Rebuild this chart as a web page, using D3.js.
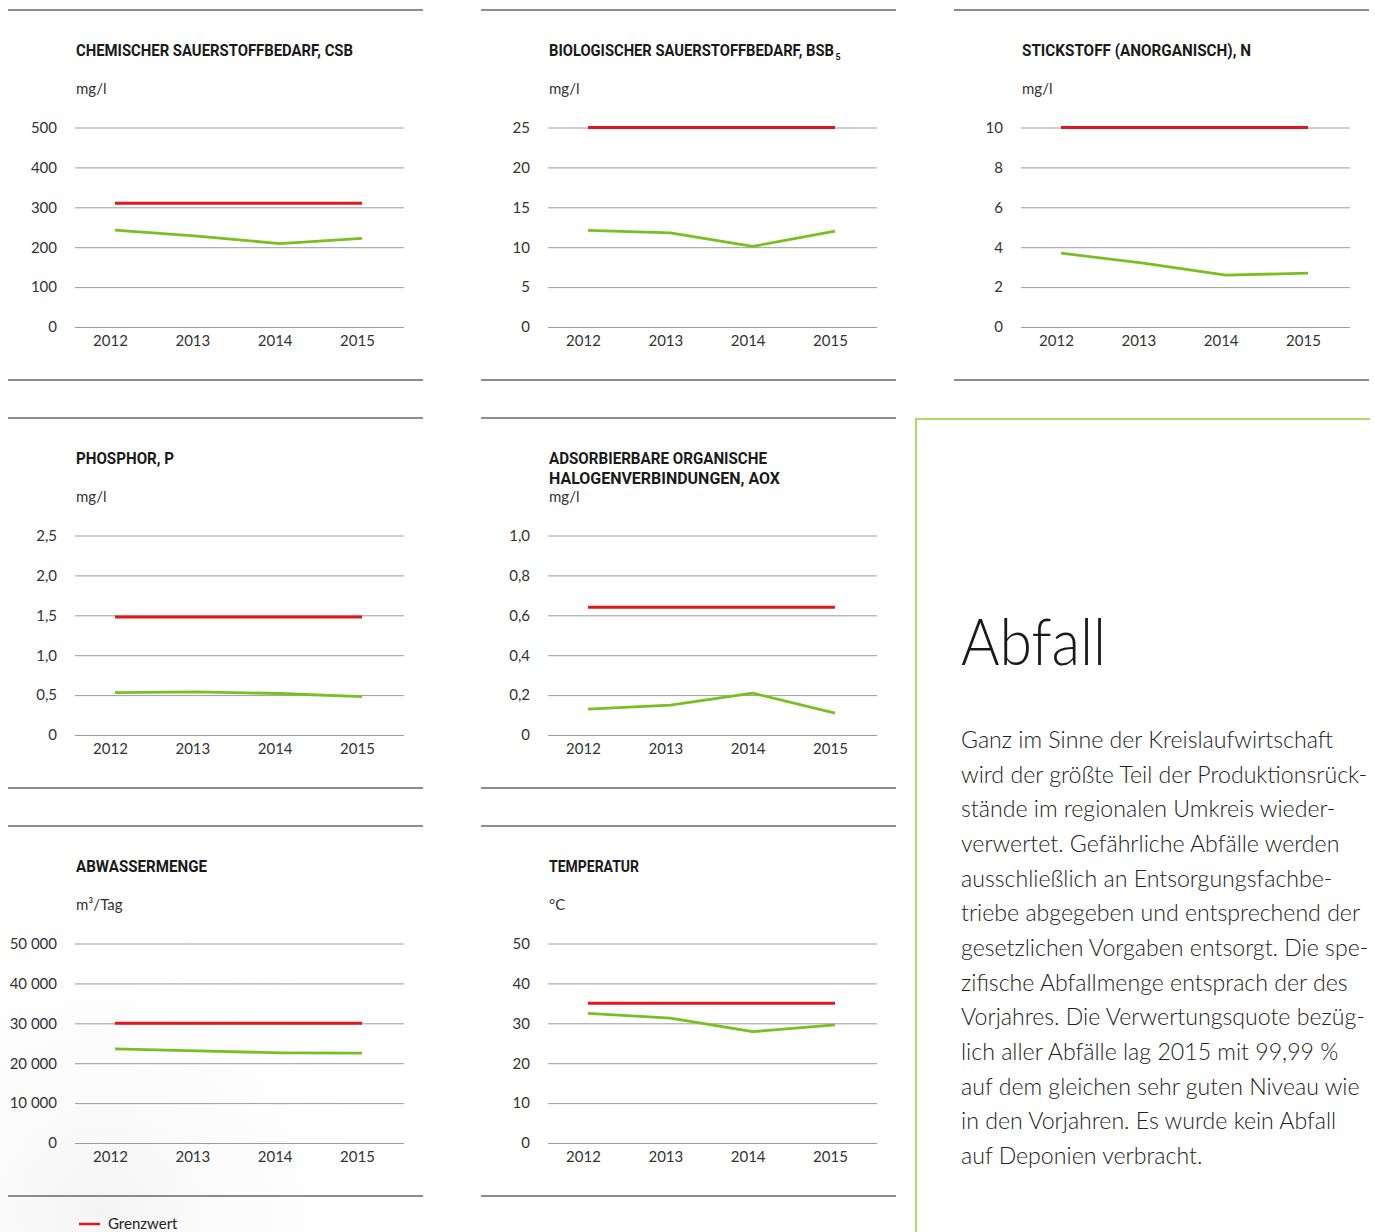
<!DOCTYPE html>
<html><head><meta charset="utf-8">
<script src="https://cdn.jsdelivr.net/npm/d3@7"></script>
<style>
html,body{margin:0;padding:0;background:#fff;}
svg{display:block;}
</style></head>
<body>
<script>
// ---------- DATA ----------
const years = ["2012", "2013", "2014", "2015"];

const csbValues = [243, 228, 209, 222];
const csbLimit = 310;
const csbTicks = [0, 100, 200, 300, 400, 500];
const csbTickLabels = ["0", "100", "200", "300", "400", "500"];

const bsbValues = [12.1, 11.8, 10.1, 12.0];
const bsbLimit = 25;
const bsbTicks = [0, 5, 10, 15, 20, 25];
const bsbTickLabels = ["0", "5", "10", "15", "20", "25"];

const nValues = [3.7, 3.2, 2.6, 2.7];
const nLimit = 10;
const nTicks = [0, 2, 4, 6, 8, 10];
const nTickLabels = ["0", "2", "4", "6", "8", "10"];

const pValues = [0.53, 0.54, 0.52, 0.48];
const pLimit = 1.48;
const pTicks = [0, 0.5, 1.0, 1.5, 2.0, 2.5];
const pTickLabels = ["0", "0,5", "1,0", "1,5", "2,0", "2,5"];

const aoxValues = [0.13, 0.15, 0.21, 0.11];
const aoxLimit = 0.64;
const aoxTicks = [0, 0.2, 0.4, 0.6, 0.8, 1.0];
const aoxTickLabels = ["0", "0,2", "0,4", "0,6", "0,8", "1,0"];

const abwValues = [23600, 23100, 22600, 22500];
const abwLimit = 30000;
const abwTicks = [0, 10000, 20000, 30000, 40000, 50000];
const abwTickLabels = ["0", "10 000", "20 000", "30 000", "40 000", "50 000"];

const tempValues = [32.5, 31.3, 27.9, 29.6];
const tempLimit = 35;
const tempTicks = [0, 10, 20, 30, 40, 50];
const tempTickLabels = ["0", "10", "20", "30", "40", "50"];

const legendLabel = "Grenzwert";
const sideTitle = "Abfall";
const sideLines = [
  "Ganz im Sinne der Kreislaufwirtschaft",
  "wird der größte Teil der Produktionsrück-",
  "stände im regionalen Umkreis wieder-",
  "verwertet. Gefährliche Abfälle werden",
  "ausschließlich an Entsorgungsfachbe-",
  "triebe abgegeben und entsprechend der",
  "gesetzlichen Vorgaben entsorgt. Die spe-",
  "zifische Abfallmenge entsprach der des",
  "Vorjahres. Die Verwertungsquote bezüg-",
  "lich aller Abfälle lag 2015 mit 99,99 %",
  "auf dem gleichen sehr guten Niveau wie",
  "in den Vorjahren. Es wurde kein Abfall",
  "auf Deponien verbracht."
];

// ---------- PANELS ----------
const panels = [
  {col:0,row:0,title:["CHEMISCHER SAUERSTOFFBEDARF, CSB"],tw:[277],unit:"mg/l",values:csbValues,limit:csbLimit,ticks:csbTicks,labels:csbTickLabels},
  {col:1,row:0,title:["BIOLOGISCHER SAUERSTOFFBEDARF, BSB"],sub:"5",tw:[285],unit:"mg/l",values:bsbValues,limit:bsbLimit,ticks:bsbTicks,labels:bsbTickLabels},
  {col:2,row:0,title:["STICKSTOFF (ANORGANISCH), N"],tw:[229],unit:"mg/l",values:nValues,limit:nLimit,ticks:nTicks,labels:nTickLabels},
  {col:0,row:1,title:["PHOSPHOR, P"],tw:[98],unit:"mg/l",values:pValues,limit:pLimit,ticks:pTicks,labels:pTickLabels},
  {col:1,row:1,title:["ADSORBIERBARE ORGANISCHE","HALOGENVERBINDUNGEN, AOX"],tw:[218,231],unit:"mg/l",values:aoxValues,limit:aoxLimit,ticks:aoxTicks,labels:aoxTickLabels},
  {col:0,row:2,title:["ABWASSERMENGE"],tw:[131],unit:"m³/Tag",values:abwValues,limit:abwLimit,ticks:abwTicks,labels:abwTickLabels},
  {col:1,row:2,title:["TEMPERATUR"],tw:[90],unit:"°C",values:tempValues,limit:tempLimit,ticks:tempTicks,labels:tempTickLabels}
];

const W = 1375, H = 1232;
const colX = [0, 473, 946];
const rowY = [0, 408, 816];
const RED = "#e3161b", GREEN = "#77c020";
const FONT = "Lato, 'Open Sans', sans-serif";
const TFONT = "Roboto, 'Liberation Sans', sans-serif";

const svg = d3.select("body").append("svg").attr("width", W).attr("height", H);

// faint background shading lower left
const defs = svg.append("defs");
const rg = defs.append("radialGradient").attr("id","bgShade").attr("cx","0.5").attr("cy","0.5").attr("r","0.5");
rg.append("stop").attr("offset","0%").attr("stop-color","#ececec").attr("stop-opacity",0.55);
rg.append("stop").attr("offset","100%").attr("stop-color","#ffffff").attr("stop-opacity",0);
svg.append("ellipse").attr("cx",100).attr("cy",1210).attr("rx",320).attr("ry",330).attr("fill","url(#bgShade)");

panels.forEach(p => {
  const g = svg.append("g").attr("transform", `translate(${colX[p.col]},${rowY[p.row]})`);

  // rules
  [10, 380].forEach(yy => {
    g.append("line").attr("x1", 8).attr("x2", 423).attr("y1", yy).attr("y2", yy)
      .attr("stroke", "#666").attr("stroke-width", 1.3);
  });

  // title
  p.title.forEach((t, i) => {
    const tx = g.append("text").attr("x", 76).attr("y", 56 + i * 20)
      .attr("font-family", TFONT).attr("font-weight", 700).attr("font-size", 16)
      .attr("fill", "#1a1a1a");
    tx.append("tspan").text(t)
      .attr("textLength", p.tw[i]).attr("lengthAdjust", "spacingAndGlyphs");
    if (p.sub && i === 0) {
      tx.append("tspan").attr("dx", 1.5).attr("dy", 4).attr("font-size", 9).text(p.sub);
    }
  });

  // unit
  g.append("text").attr("x", 76).attr("y", 94)
    .attr("font-family", FONT).attr("font-size", 15).attr("fill", "#333").text(p.unit);

  // scales
  const x = d3.scalePoint().domain(years).range([115, 362]);
  const y = d3.scaleLinear().domain([p.ticks[0], p.ticks[p.ticks.length - 1]]).range([327, 127.5]);

  // gridlines + y labels
  const ya = g.append("g").attr("transform", "translate(75,0)")
    .call(d3.axisLeft(y).tickValues(p.ticks).tickFormat((d, i) => p.labels[i])
      .tickSize(-(404 - 75)).tickPadding(18));
  ya.select(".domain").remove();
  ya.selectAll(".tick line").attr("stroke", "#9c9c9c").attr("stroke-width", 1);
  ya.selectAll(".tick text").attr("font-family", FONT).attr("font-size", 15).attr("fill", "#333");

  // x labels
  const xa = g.append("g").attr("transform", "translate(-5,335)")
    .call(d3.axisBottom(x).tickSize(0).tickPadding(0));
  xa.select(".domain").remove();
  xa.selectAll(".tick text").attr("font-family", FONT).attr("font-size", 15).attr("fill", "#333");

  // limit line
  g.append("line").attr("x1", x(years[0])).attr("x2", x(years[years.length - 1]))
    .attr("y1", y(p.limit)).attr("y2", y(p.limit))
    .attr("stroke", RED).attr("stroke-width", 3);

  // data line
  const line = d3.line().x((d, i) => x(years[i])).y(d => y(d));
  g.append("path").datum(p.values).attr("d", line)
    .attr("fill", "none").attr("stroke", GREEN).attr("stroke-width", 2.8)
    .attr("stroke-linejoin", "round");
});

// legend
svg.append("line").attr("x1", 79).attr("x2", 100).attr("y1", 1224).attr("y2", 1224)
  .attr("stroke", RED).attr("stroke-width", 2.5);
svg.append("text").attr("x", 108).attr("y", 1229).attr("font-family", FONT)
  .attr("font-size", 15).attr("fill", "#222").text(legendLabel);

// side panel
const side = svg.append("g");
side.append("path").attr("d", `M916,${H} L916,419 L1370,419`)
  .attr("fill", "none").attr("stroke", "#8fd12a").attr("stroke-width", 1.5);
side.append("text").attr("x", 961).attr("y", 665).attr("font-family", FONT)
  .attr("font-weight", 300).attr("font-size", 66).attr("fill", "#1a1a1a")
  .text(sideTitle).attr("textLength", 145).attr("lengthAdjust", "spacingAndGlyphs");

const bodyTexts = side.selectAll("text.body").data(sideLines).enter().append("text")
  .attr("class", "body").attr("x", 961).attr("y", (d, i) => 748 + i * 34.67)
  .attr("font-family", FONT).attr("font-weight", 300).attr("font-size", 23)
  .attr("fill", "#222").text(d => d);
const n0 = bodyTexts.nodes()[0].getComputedTextLength();
const factor = 372 / n0;
bodyTexts.each(function () {
  const w = this.getComputedTextLength();
  d3.select(this).attr("textLength", w * factor).attr("lengthAdjust", "spacingAndGlyphs");
});
</script>
</body></html>
